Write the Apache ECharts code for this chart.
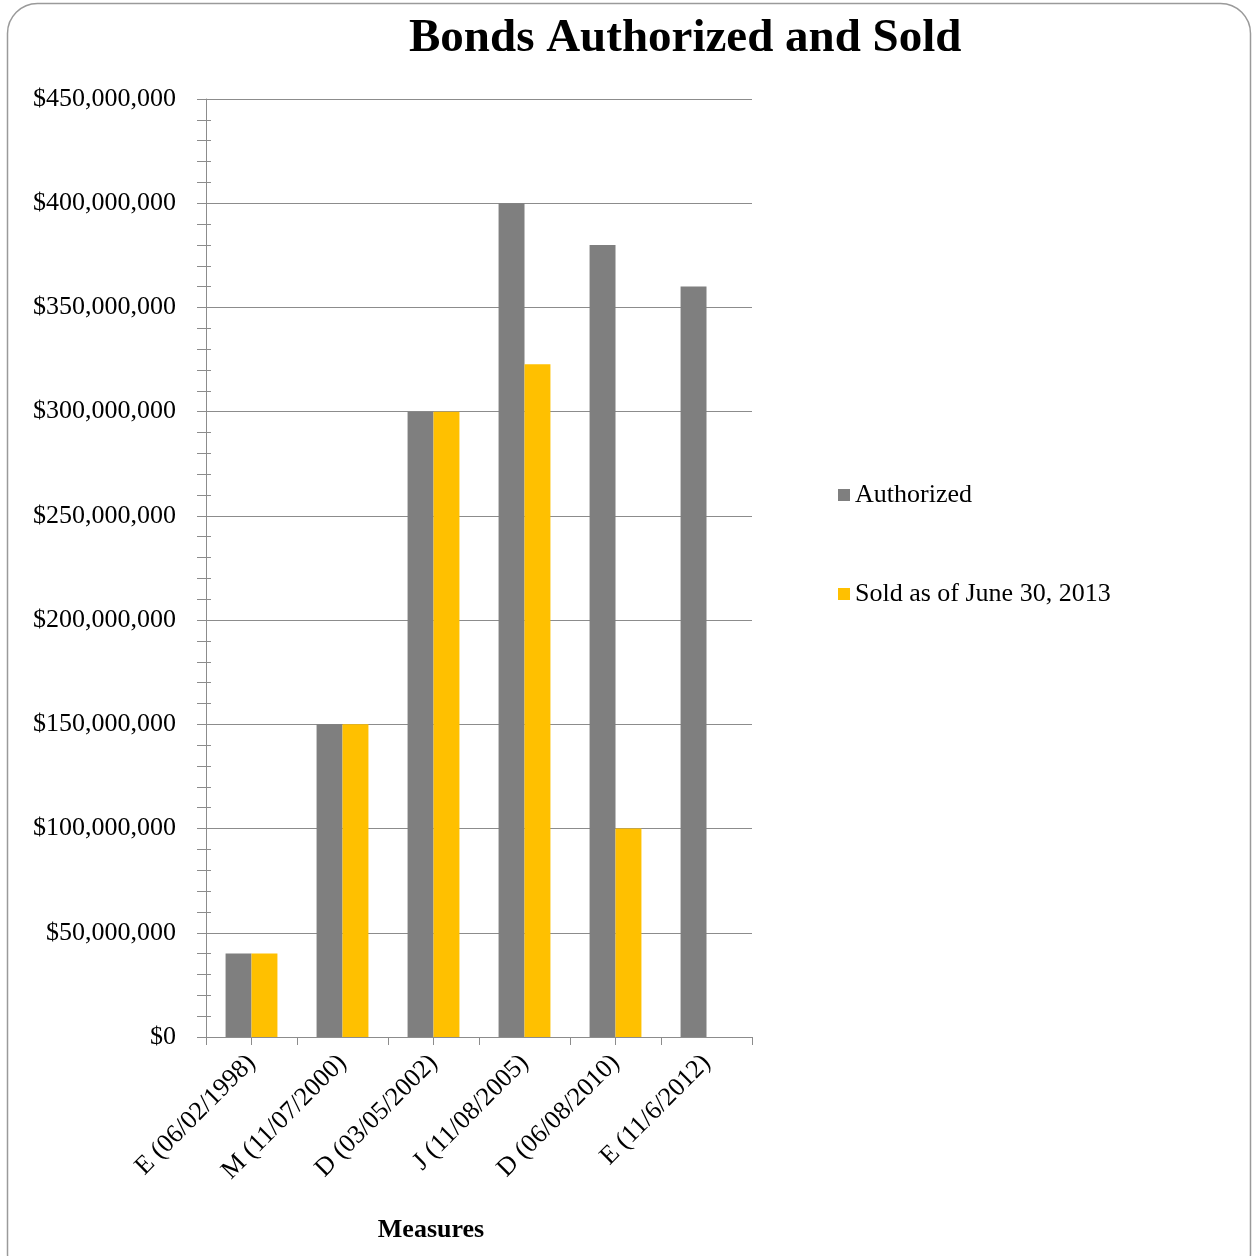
<!DOCTYPE html>
<html>
<head>
<meta charset="utf-8">
<title>Bonds Authorized and Sold</title>
<script src="https://cdn.jsdelivr.net/npm/echarts@6/dist/echarts.min.js"></script>
<style>
  html, body { margin: 0; padding: 0; background: #fff; }
  #chart { width: 1253px; height: 1256px; }
</style>
</head>
<body>
<div id="chart"></div>
<script>
// categories: measure letter + election date
var measures = [
  "E (06/02/1998)",
  "M (11/07/2000)",
  "D (03/05/2002)",
  "J (11/08/2005)",
  "D (06/08/2010)",
  "E (11/6/2012)"
];
var authorized = [40000000, 150000000, 300000000, 400000000, 380000000, 360000000];
var sold = [40000000, 150000000, 300000000, 322700000, 100000000, 0];
var yTicks = [0, 50000000, 100000000, 150000000, 200000000, 250000000, 300000000, 350000000, 400000000, 450000000];

var font = "'Liberation Serif', 'Times New Roman', serif";
var lineGray = "#8c8c8c";

function money(v) {
  return "$" + String(v).replace(/\B(?=(\d{3})+(?!\d))/g, ",");
}

var chart = echarts.init(document.getElementById("chart"));

var option = {
  backgroundColor: "#fff",
  animation: false,
  textStyle: { fontFamily: font, color: "#000" },
  graphic: [
    {
      // rounded chart frame
      type: "rect",
      silent: true,
      shape: { x: 7.5, y: 3.5, width: 1243, height: 1280, r: 30 },
      style: { fill: "none", stroke: "#9a9a9a", lineWidth: 1.5 }
    }
  ],
  title: {
    text: "Bonds Authorized and Sold",
    left: 404,
    top: 10,
    textStyle: { fontFamily: font, fontSize: 47, fontWeight: "bold", color: "#000" }
  },
  legend: {
    orient: "vertical",
    left: 833,
    top: 477,
    itemWidth: 12,
    itemHeight: 12,
    itemGap: 73,
    icon: "rect",
    data: ["Authorized", "Sold as of June 30, 2013"],
    textStyle: { fontFamily: font, fontSize: 26, color: "#000" }
  },
  grid: {
    left: 206,
    right: 501,
    top: 99,
    bottom: 219,
    containLabel: false
  },
  xAxis: [
    {
      type: "category",
      data: measures,
      position: "bottom",
      name: "Measures",
      nameLocation: "middle",
      nameGap: 180,
      nameTextStyle: { fontFamily: font, fontSize: 26, fontWeight: "bold", color: "#000", padding: [0, 96, 0, 0] },
      axisLine: { lineStyle: { color: lineGray, width: 1 } },
      axisTick: { show: true, length: 8, lineStyle: { color: lineGray } },
      axisLabel: {
        interval: 0,
        rotate: 45,
        margin: 22,
        fontFamily: font,
        fontSize: 26,
        color: "#000"
      }
    },
    {
      // extra ticks at category centres
      type: "category",
      data: measures,
      position: "bottom",
      axisLine: { show: false },
      axisTick: { show: true, alignWithLabel: true, length: 8, lineStyle: { color: lineGray } },
      axisLabel: { show: false }
    }
  ],
  yAxis: [
    {
      type: "value",
      min: 0,
      max: 450000000,
      interval: 50000000,
      position: "left",
      axisLine: { show: true, lineStyle: { color: lineGray } },
      axisTick: { show: true, length: 9, lineStyle: { color: lineGray } },
      minorTick: { show: true, splitNumber: 5, length: 9, lineStyle: { color: lineGray } },
      splitLine: { show: true, lineStyle: { color: lineGray, width: 1 } },
      axisLabel: {
        margin: 30,
        fontFamily: font,
        fontSize: 26,
        color: "#000",
        formatter: function (v) {
          return yTicks.indexOf(v) >= 0 ? money(v) : "";
        }
      }
    },
    {
      // minor ticks poking inside the plot
      type: "value",
      min: 0,
      max: 450000000,
      interval: 50000000,
      position: "left",
      axisLine: { show: false },
      axisTick: { show: false, inside: true },
      minorTick: { show: true, splitNumber: 5, length: 5, lineStyle: { color: lineGray } },
      splitLine: { show: false },
      axisLabel: { show: false }
    }
  ],
  series: [
    {
      name: "Authorized",
      type: "bar",
      data: authorized,
      barGap: "0%",
      barCategoryGap: "43%",
      itemStyle: { color: "#7f7f7f" }
    },
    {
      name: "Sold as of June 30, 2013",
      type: "bar",
      data: sold,
      barGap: "0%",
      barCategoryGap: "43%",
      itemStyle: { color: "#ffc000" }
    }
  ]
};

chart.setOption(option);
</script>
</body>
</html>
